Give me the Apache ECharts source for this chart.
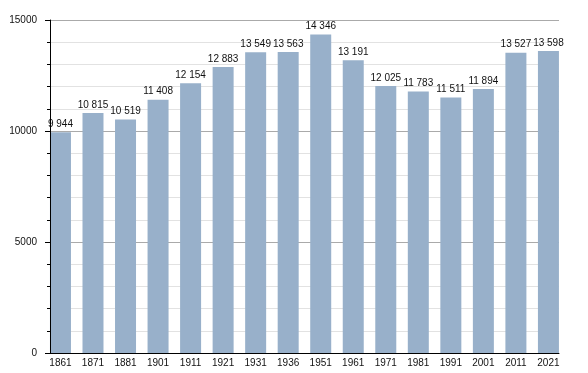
<!DOCTYPE html>
<html>
<head>
<meta charset="utf-8">
<script src="https://cdn.jsdelivr.net/npm/echarts@6/dist/echarts.min.js"></script>
<style>
html,body{margin:0;padding:0;background:#fff;}
#c{width:588px;height:373px;}
</style>
</head>
<body>
<div id="c"></div>
<script>
const years = ['1861','1871','1881','1901','1911','1921','1931','1936','1951','1961','1971','1981','1991','2001','2011','2021'];
const population = [9944,10815,10519,11408,12154,12883,13549,13563,14346,13191,12025,11783,11511,11894,13527,13598];
const yTicks = [0,5000,10000,15000];

const FONT = '"Liberation Sans", Arial, Helvetica, sans-serif';
const fmt = v => String(v).replace(/\B(?=(\d{3})+(?!\d))/g, ' ');

const chart = echarts.init(document.getElementById('c'), null, {renderer:'canvas'});
chart.setOption({
  animation: false,
  backgroundColor: '#fff',
  grid: [
    {left: 50, right: 29, top: 20, bottom: 20},
    {left: 44.2, width: 520.5, top: 20, bottom: 20}
  ],
  xAxis: [
    {type: 'value', gridIndex: 0, min: 0, max: 1, z: 5, position: 'bottom',
     axisLine: {show: true, lineStyle: {color: '#000', width: 1}},
     axisTick: {show: false}, axisLabel: {show: false}, splitLine: {show: false}},
    {type: 'category', gridIndex: 1, data: years, position: 'bottom',
     axisLine: {show: false}, axisTick: {show: false},
     axisLabel: {color: '#111', fontFamily: FONT, fontSize: 10, margin: 5}}
  ],
  yAxis: [
    {type: 'value', gridIndex: 0, position: 'left', min: yTicks[0], max: yTicks[yTicks.length-1], interval: 5000, z: 0,
     axisLine: {show: false}, axisTick: {show: false},
     splitLine: {show: true, lineStyle: {color: '#aaaaaa', width: 1}},
     minorTick: {show: false, splitNumber: 5},
     minorSplitLine: {show: true, lineStyle: {color: '#e2e2e2', width: 1}},
     axisLabel: {color: '#111', fontFamily: FONT, fontSize: 10, margin: 13, formatter: v => String(v)}},
    {type: 'value', gridIndex: 1, position: 'left', min: 0, max: 15000, show: false, splitLine: {show: false}},
    {type: 'value', gridIndex: 0, position: 'left', min: yTicks[0], max: yTicks[yTicks.length-1], interval: 5000, z: 5,
     axisLine: {show: true, onZero: false, lineStyle: {color: '#000', width: 1}},
     axisTick: {show: true, length: 5, lineStyle: {color: '#000'}},
     minorTick: {show: true, splitNumber: 5, length: 3, lineStyle: {color: '#000'}},
     splitLine: {show: false}, minorSplitLine: {show: false},
     axisLabel: {show: false}}
  ],
  series: [{
    type: 'bar', xAxisIndex: 1, yAxisIndex: 1,
    data: population, barWidth: 21,
    itemStyle: {color: '#98b0ca'},
    label: {show: true, position: 'top', distance: 3, color: '#111',
            fontFamily: FONT, fontSize: 10, formatter: p => fmt(p.value)}
  }]
});
</script>
</body>
</html>
